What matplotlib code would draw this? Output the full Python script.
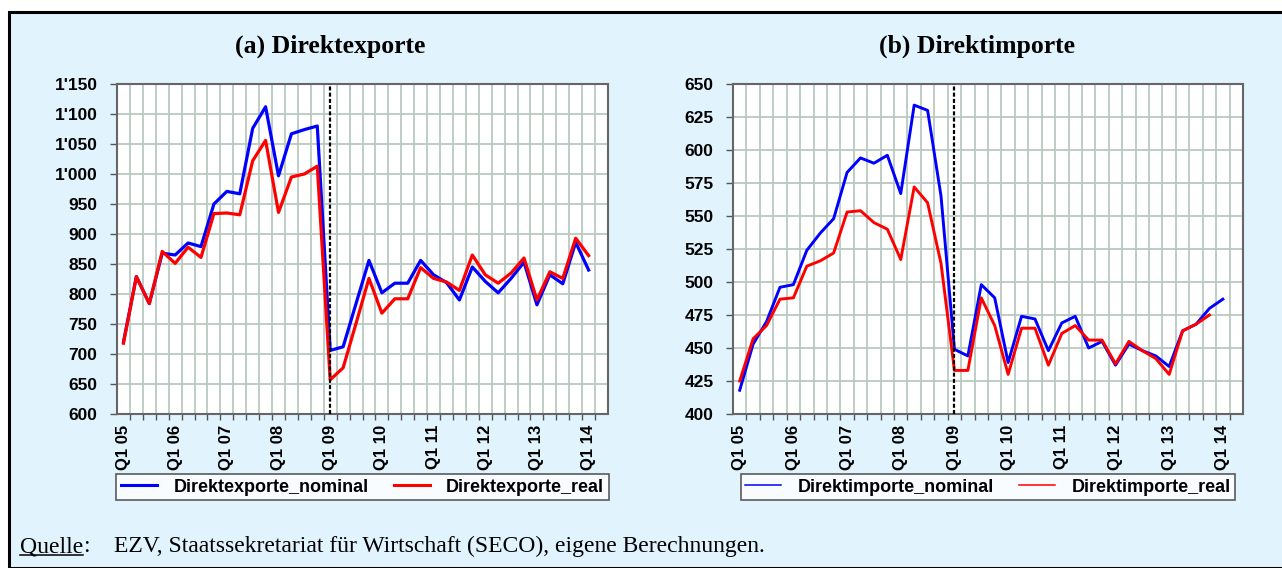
import numpy as np
import matplotlib
matplotlib.use("Agg")
import matplotlib.pyplot as plt
from matplotlib.ticker import FuncFormatter, FixedLocator
from matplotlib.lines import Line2D
from matplotlib.patches import Rectangle

# quarterly data, Q1 05 .. Q1 14
year_labels = ["Q1 05", "Q1 06", "Q1 07", "Q1 08", "Q1 09",
               "Q1 10", "Q1 11", "Q1 12", "Q1 13", "Q1 14"]

exp_nominal = [720, 829, 784, 868, 865, 885, 879, 950, 971, 967,
               1076, 1112, 997, 1067, 1074, 1080, 706, 712, 784, 856,
               802, 818, 818, 856, 832, 819, 790, 845, 821, 802,
               826, 853, 782, 832, 817, 886, 840]
exp_real = [718, 829, 784, 871, 851, 878, 861, 934, 935, 932,
            1022, 1056, 936, 995, 1000, 1013, 657, 677, 751, 826,
            768, 792, 792, 844, 826, 820, 806, 865, 832, 818,
            835, 860, 790, 837, 826, 893, 864]

imp_nominal = [418, 453, 470, 496, 498, 524, 537, 548, 583, 594,
               590, 596, 567, 634, 630, 565, 449, 444, 498, 488,
               439, 474, 472, 448, 469, 474, 450, 455, 437, 453,
               448, 444, 436, 463, 468, 480, 487]
imp_real = [425, 457, 467, 487, 488, 512, 516, 522, 553, 554,
            545, 540, 517, 572, 560, 514, 433, 433, 488, 467,
            430, 465, 465, 437, 461, 467, 456, 456, 438, 455,
            448, 442, 430, 463, 468, 475]

n_cat = 38       # category slots on the x axis
break_idx = 16   # Q1 09

bg = "#E1F3FD"
grid_col = "#B9C9C1"
sans = "Liberation Sans"
serif = "Liberation Serif"

fig = plt.figure(figsize=(12.82, 5.68), dpi=100)
fig.patch.set_facecolor("white")

# light blue panel with black frame
W, H = 1282, 568
panel = Rectangle((9 / W, 0), 1 - 9 / W + 0.01, 1 - 12 / H, transform=fig.transFigure,
                  facecolor=bg, edgecolor="black", linewidth=2.2, zorder=-10)
fig.patches.append(panel)


def thousands(v, pos):
    s = f"{int(v):,}"
    return s.replace(",", "'")


def make_panel(rect, nominal, real, ylim, ystep, title, title_x, names, lw, leg_lw):
    ax = fig.add_axes(rect)
    ax.set_facecolor("white")
    x_nom = np.arange(len(nominal))
    x_real = np.arange(len(real))
    ax.plot(x_nom, nominal, color="#0000FF", lw=lw, solid_joinstyle="round", zorder=3)
    ax.plot(x_real, real, color="#FF0000", lw=lw, solid_joinstyle="round", zorder=4)
    ax.axvline(break_idx, color="black", lw=1.6, ls=(0, (1.8, 1.0)), zorder=5)

    ax.set_xlim(-0.5, n_cat - 0.5)
    ax.set_ylim(*ylim)
    ax.set_yticks(np.arange(ylim[0], ylim[1] + 1, ystep))
    ax.yaxis.set_major_formatter(FuncFormatter(thousands))

    # boundaries between quarters carry grid and tick marks
    bounds = np.arange(0.5, n_cat - 0.5, 1.0)
    ax.xaxis.set_minor_locator(FixedLocator(bounds))
    ax.xaxis.set_major_locator(FixedLocator(np.arange(0, 37, 4)))
    ax.set_xticklabels(year_labels, rotation=90, fontfamily=sans,
                       fontweight="bold", fontsize=12)
    ax.tick_params(axis="x", which="major", length=0, pad=8)
    ax.tick_params(axis="x", which="minor", length=4, width=1, color="#555555", direction="out")
    ax.tick_params(axis="y", length=5, width=1, color="#555555", pad=9)
    for lab in ax.get_yticklabels():
        lab.set_fontfamily(sans)
        lab.set_fontweight("bold")
        lab.set_fontsize(12.5)
    ax.grid(True, which="minor", axis="x", color=grid_col, lw=1.3)
    ax.grid(True, which="major", axis="y", color=grid_col, lw=1.3)
    ax.set_axisbelow(True)
    for sp in ax.spines.values():
        sp.set_color("#666666")
        sp.set_linewidth(1.5)

    fig.text(title_x / W, 1 - 46 / H, title, ha="center", va="center",
             fontfamily=serif, fontweight="bold", fontsize=18.5)

    cx = rect[0] + rect[2] / 2
    handles = [Line2D([], [], color="#0000FF", lw=leg_lw),
               Line2D([], [], color="#FF0000", lw=leg_lw)]
    leg = fig.legend(handles, names, ncol=2, loc="center",
                     bbox_to_anchor=(cx, 1 - 487 / H), frameon=True, fancybox=False,
                     prop={"family": sans, "weight": "bold", "size": 13},
                     handlelength=2.0, handletextpad=0.9, columnspacing=1.4,
                     borderpad=0.25, edgecolor="#333333")
    leg.get_frame().set_linewidth(1.2)
    return ax


make_panel([117 / W, 1 - 414 / H, 491 / W, 330 / H], exp_nominal, exp_real,
           (600, 1150), 50, "(a) Direktexporte", 330,
           ["Direktexporte_nominal", "Direktexporte_real"], 2.3, 2.2)
make_panel([733 / W, 1 - 414 / H, 510 / W, 330 / H], imp_nominal, imp_real,
           (400, 650), 25, "(b) Direktimporte", 977,
           ["Direktimporte_nominal", "Direktimporte_real"], 2.1, 1.1)

# source note with underlined "Quelle"
base_y = 1 - 552 / H
q = fig.text(20 / W, base_y, "Quelle", ha="left", va="baseline",
             fontfamily=serif, fontsize=17)
fig.canvas.draw()
bb = q.get_window_extent()
fig.text(bb.x1 / W, base_y, ":", ha="left", va="baseline",
         fontfamily=serif, fontsize=17)
fig.add_artist(Line2D([bb.x0 / W, bb.x1 / W], [base_y - 3 / H, base_y - 3 / H],
                      transform=fig.transFigure, color="black", lw=1.1))
fig.text(114 / W, base_y,
         "EZV, Staatssekretariat für Wirtschaft (SECO), eigene Berechnungen.",
         ha="left", va="baseline", fontfamily=serif, fontsize=17)

fig.savefig("out.png", dpi=100, facecolor=fig.get_facecolor())
